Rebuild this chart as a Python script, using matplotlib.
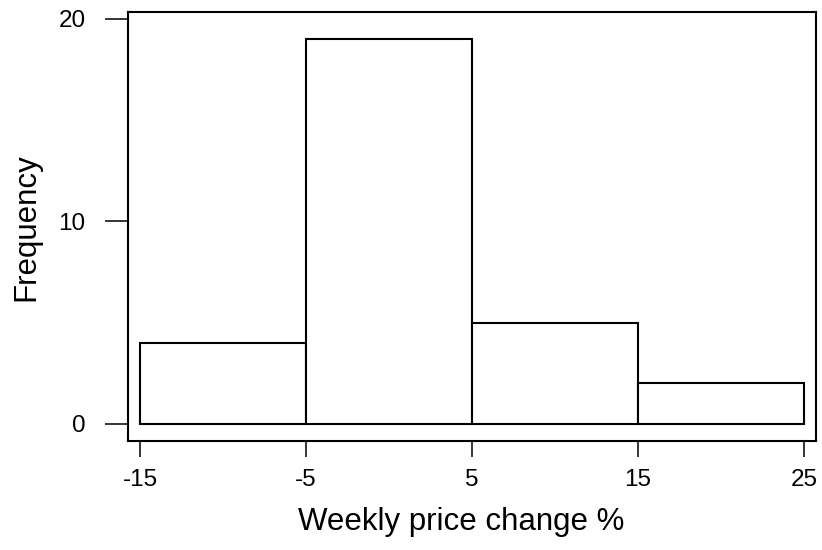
"""Histogram of weekly price change, Minitab style."""

import matplotlib
matplotlib.use("Agg")
import matplotlib.pyplot as plt

bin_edges = [-15, -5, 5, 15, 25]
counts = [4, 19, 5, 2]
x_ticks = [-15, -5, 5, 15, 25]
y_ticks = [0, 10, 20]

plt.rcParams["font.family"] = ["Liberation Sans", "DejaVu Sans"]


def main():
    fig = plt.figure(figsize=(8.22, 5.5), dpi=100)
    ax = fig.add_axes([0.1557, 0.1982, 0.8370, 0.7791])

    lefts = bin_edges[:-1]
    widths = [b - a for a, b in zip(bin_edges[:-1], bin_edges[1:])]
    ax.bar(lefts, counts, width=widths, align="edge",
           facecolor="white", edgecolor="black", linewidth=1.5)

    ax.set_xlim(-15.72, 25.72)
    ax.set_ylim(-0.84, 20.31)
    ax.set_xticks(x_ticks)
    ax.set_yticks(y_ticks)
    ax.set_xticklabels([str(t) for t in x_ticks])
    ax.set_yticklabels([str(t) for t in y_ticks])

    for s in ax.spines.values():
        s.set_linewidth(1.5)
    ax.tick_params(axis="x", direction="out", length=11.5, width=1.1,
                   pad=9, labelsize=17.5)
    ax.tick_params(axis="y", direction="out", length=16.5, width=1.1,
                   pad=14, labelsize=17.5)

    ax.set_xlabel("Weekly price change %", fontsize=22.5, labelpad=10)
    ax.set_ylabel("Frequency", fontsize=22.5, labelpad=12)
    # label sits a little left of the frame centre in the original
    ax.xaxis.set_label_coords(0.484, -0.155)

    fig.savefig("out.png", dpi=100)
    plt.close(fig)


if __name__ == "__main__":
    main()
